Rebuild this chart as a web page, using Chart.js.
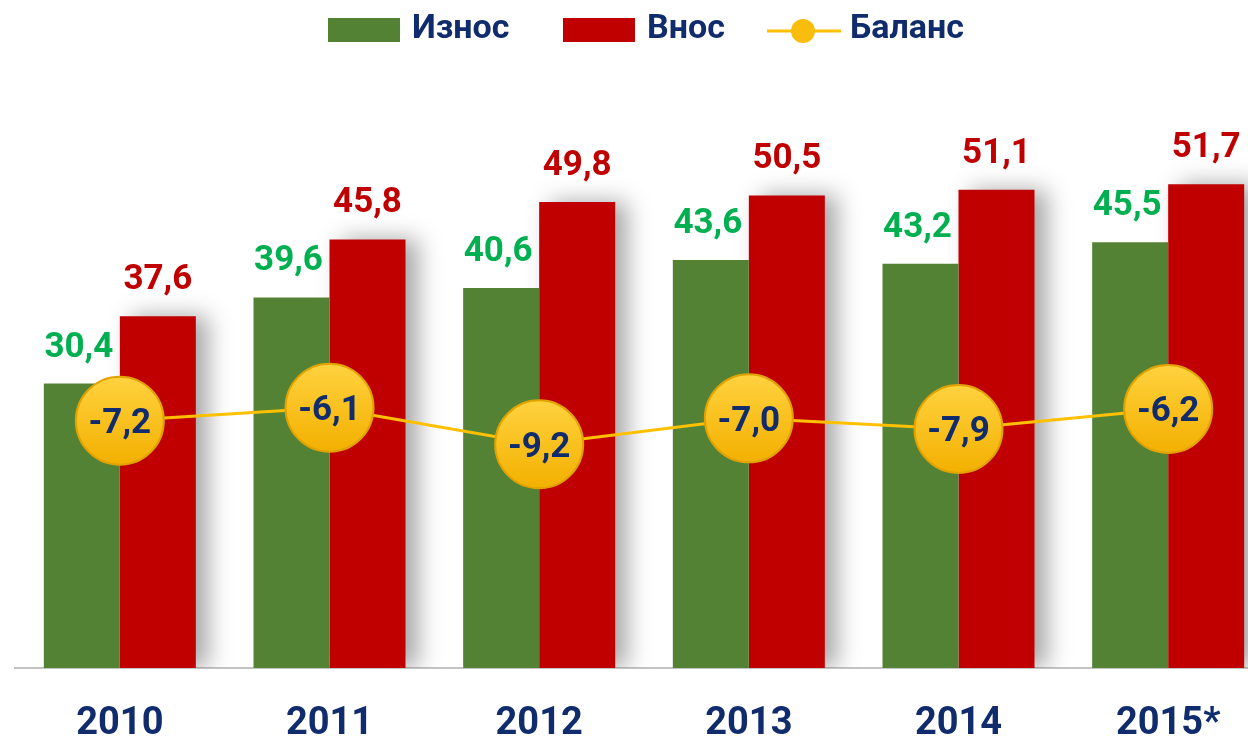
<!DOCTYPE html>
<html><head><meta charset="utf-8">
<script src="https://cdn.jsdelivr.net/npm/chart.js@4.4.1/dist/chart.umd.min.js"></script>
<style>
html,body{margin:0;padding:0;background:#fff;overflow:hidden;width:1248px;height:739px}
#wrap{position:relative;width:1273px;height:739px}
</style>
</head><body><div id="wrap"><canvas id="c" width="1273" height="739"></canvas></div>
<script>
const categories = ['2010', '2011', '2012', '2013', '2014', '2015*'];
const exportValues = [30.4, 39.6, 40.6, 43.6, 43.2, 45.5];
const importValues = [37.6, 45.8, 49.8, 50.5, 51.1, 51.7];
const balanceValues = [-7.2, -6.1, -9.2, -7.0, -7.9, -6.2];
const seriesNames = ['Износ', 'Внос', 'Баланс'];

const GREEN = '#548235', RED = '#c00000', GOLD = '#ffc000', NAVY = '#102c6c', LGREEN = '#00b050';
const FONT = 'Roboto, "DejaVu Sans", sans-serif';
const fmt = v => v.toFixed(1).replace('.', ',');

const barShadow = {
  id: 'barShadow',
  beforeDatasetDraw(chart, args) {
    if (args.index === 1) {
      const c = chart.ctx; c.save();
      c.shadowColor = 'rgba(0,0,0,0.35)'; c.shadowBlur = 22; c.shadowOffsetX = 12;
    }
  },
  afterDatasetDraw(chart, args) { if (args.index === 1) chart.ctx.restore(); }
};

const valueLabels = {
  id: 'valueLabels',
  afterDatasetsDraw(chart) {
    const c = chart.ctx; c.save();
    c.textAlign = 'center'; c.textBaseline = 'alphabetic';
    c.font = 'bold 35px ' + FONT;
    [[0, LGREEN], [1, RED]].forEach(([di, col]) => {
      const meta = chart.getDatasetMeta(di);
      c.fillStyle = col;
      meta.data.forEach((el, i) => {
        c.fillText(fmt(chart.data.datasets[di].data[i]), el.x - (di === 0 ? 3 : 0), el.y - 27);
      });
    });
    const lm = chart.getDatasetMeta(2);
    c.fillStyle = NAVY;
    lm.data.forEach((el, i) => {
      c.fillText(fmt(chart.data.datasets[2].data[i]), el.x, el.y + 12.5);
    });
    c.restore();
  }
};

const customLegend = {
  id: 'customLegend',
  afterDraw(chart) {
    const c = chart.ctx; c.save();
    c.font = 'bold 34px ' + FONT;
    c.textBaseline = 'middle'; c.textAlign = 'left';
    const starts = [328, 563, 767];
    const cy = 29;
    chart.data.datasets.forEach((d, i) => {
      let x = starts[i];
      if (i < 2) {
        c.fillStyle = d.backgroundColor;
        c.fillRect(x, 18, 72, 24);
        x += 72 + 12;
      } else {
        c.strokeStyle = GOLD; c.lineWidth = 3;
        c.beginPath(); c.moveTo(x, cy + 2); c.lineTo(x + 74, cy + 2); c.stroke();
        c.fillStyle = '#fbbd0d';
        c.beginPath(); c.arc(x + 36, cy + 2, 12, 0, Math.PI * 2); c.fill();
        x += 74 + 9;
      }
      c.fillStyle = NAVY;
      c.fillText(d.label, x, cy);
    });
    c.restore();
  }
};

new Chart(document.getElementById('c'), {
  data: {
    labels: categories,
    datasets: [
      { type: 'bar', label: seriesNames[0], data: exportValues, backgroundColor: GREEN, yAxisID: 'y', order: 1,
        barPercentage: 1, categoryPercentage: 0.725 },
      { type: 'bar', label: seriesNames[1], data: importValues, backgroundColor: RED, yAxisID: 'y', order: 1,
        barPercentage: 1, categoryPercentage: 0.725 },
      { type: 'line', label: seriesNames[2], data: balanceValues, yAxisID: 'y2', order: 0,
        borderColor: GOLD, borderWidth: 3, tension: 0,
        pointRadius: 44, pointHoverRadius: 44, pointBorderWidth: 2, pointBorderColor: '#e2a300',
        pointBackgroundColor: (ctx) => {
          const ch = ctx.chart;
          if (ctx.type !== 'data' || !ch.chartArea || !ch.scales.y2) return '#fcc010';
          const y = ch.scales.y2.getPixelForValue(ctx.raw);
          const g = ch.ctx.createLinearGradient(0, y - 44, 0, y + 44);
          g.addColorStop(0, '#ffd23f'); g.addColorStop(1, '#f3b000');
          return g;
        },
        clip: false }
    ]
  },
  options: {
    responsive: false, animation: false,
    layout: { autoPadding: false, padding: { left: 15, right: 0, top: 144, bottom: 0 } },
    plugins: { legend: { display: false }, tooltip: { enabled: false } },
    scales: {
      x: {
        grid: { display: false, drawTicks: false },
        border: { display: true, color: '#c4c4c4', width: 2 },
        ticks: { color: NAVY, padding: 37, font: { family: FONT, size: 38, weight: 'bold', lineHeight: 1 } },
        afterFit: (scale) => { scale.height = 71; }
      },
      y: { display: false, min: 0, max: 56 },
      y2: { display: false, min: -28.16, max: 16.25 }
    }
  },
  plugins: [barShadow, valueLabels, customLegend]
});
</script>
</body></html>
